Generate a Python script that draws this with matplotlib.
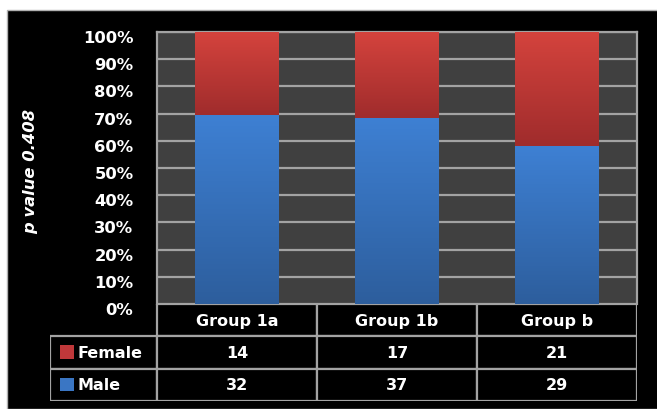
import numpy as np
import matplotlib.pyplot as plt
import matplotlib.colors as mtc
import matplotlib.patches as pat
import matplotlib.transforms as mtr

# --- data ---
groups = ["Group 1a", "Group 1b", "Group b"]
female = [14, 17, 21]
male = [32, 37, 29]
series_names = ["Female", "Male"]
yticks = [0, 10, 20, 30, 40, 50, 60, 70, 80, 90, 100]
ylabel = "p value 0.408"

# colours
bg = "#000000"
plot_bg = "#404040"
grid_c = "#a3a3a3"
red_top, red_bot = "#d4433d", "#a02c2c"
blue_top, blue_bot = "#3e80d3", "#2d5e9d"
red_key, blue_key = "#c0383a", "#3a76c4"

plt.rcParams['font.family'] = ['DejaVu Sans']

W, H = 657, 410
fig = plt.figure(figsize=(6.57, 4.10), dpi=100, facecolor="white")

# black chart area, white margin at top and left
frame = pat.Rectangle((7 / W, 0), 1, 1 - 11 / H,
                      transform=fig.transFigure, facecolor=bg,
                      edgecolor="#b0b0b0", linewidth=1.0, zorder=-10)
fig.add_artist(frame)

ax = fig.add_axes([157 / W, 1 - 305 / H, 480 / W, 272 / H])
ax.set_facecolor(plot_bg)

tot = np.array(female) + np.array(male)
male_pct = np.array(male) / tot * 100
female_pct = np.array(female) / tot * 100

x = np.arange(len(groups))
bw = 0.52


def grad_bar(xc, y0, y1, ctop, cbot):
    cm = mtc.LinearSegmentedColormap.from_list("g", [cbot, ctop])
    g = np.linspace(0, 1, 100).reshape(-1, 1)
    ax.imshow(g, cmap=cm, origin="lower", aspect="auto",
              extent=(xc - bw / 2, xc + bw / 2, y0, y1), zorder=3,
              interpolation="bicubic")


for i in range(len(groups)):
    grad_bar(x[i], 0, male_pct[i], blue_top, blue_bot)
    grad_bar(x[i], male_pct[i], male_pct[i] + female_pct[i], red_top, red_bot)

ax.set_xlim(-0.5, len(groups) - 0.5)
ax.set_ylim(0, 100)
ax.set_yticks(yticks)
ax.set_yticklabels(["{0}%".format(t) for t in yticks])
ax.set_xticks([])
ax.yaxis.grid(True, color=grid_c, linewidth=1.6, zorder=1)
ax.set_axisbelow(True)
ax.tick_params(axis="y", length=0, pad=17, labelcolor="white", labelsize=11.8)
shift = mtr.ScaledTranslation(0, -4 / 100, fig.dpi_scale_trans)
for lab in ax.get_yticklabels():
    lab.set_fontweight("bold")
    lab.set_transform(lab.get_transform() + shift)
for side in ["left", "right", "top"]:
    ax.spines[side].set_color(grid_c)
    ax.spines[side].set_linewidth(1.6)
ax.spines["bottom"].set_visible(False)

# y label, centred on the plot area
fig.text(31 / W, 1 - 172 / H, ylabel, color="white", fontsize=11.8,
         fontweight="bold", style="italic", rotation=90,
         ha="center", va="center")

# --- data table ---
tx = fig.add_axes([50 / W, 1 - 402 / H, 587 / W, 97 / H])
tx.set_facecolor(bg)
lw_col = 107 / 160
tx.set_xlim(-0.5 - lw_col, len(groups) - 0.5)
tx.set_ylim(0, 3)
tx.axis("off")

ec = grid_c
for i, g in enumerate(groups):
    tx.add_patch(pat.Rectangle((i - 0.5, 2), 1, 1, facecolor=bg,
                               edgecolor=ec, linewidth=1.6))
    tx.text(i, 2.5, g, color="white", fontsize=11.5, fontweight="bold",
            ha="center", va="center")

rows = [female, male]
keys = [red_key, blue_key]
for r in range(2):
    yb = 1 - r
    tx.add_patch(pat.Rectangle((-0.5 - lw_col, yb), lw_col, 1, facecolor=bg,
                               edgecolor=ec, linewidth=1.6))
    tx.add_patch(pat.Rectangle((-0.5 - lw_col + 0.065, yb + 0.3), 0.085, 0.42,
                               facecolor=keys[r], edgecolor="none"))
    tx.text(-0.5 - lw_col + 0.17, yb + 0.5, series_names[r], color="white",
            fontsize=11.5, fontweight="bold", ha="left", va="center")
    for i in range(len(groups)):
        tx.add_patch(pat.Rectangle((i - 0.5, yb), 1, 1, facecolor=bg,
                                   edgecolor=ec, linewidth=1.6))
        tx.text(i, yb + 0.5, str(rows[r][i]), color="white", fontsize=11.5,
                fontweight="bold", ha="center", va="center")

plt.savefig("out.png", dpi=100, facecolor="white")
